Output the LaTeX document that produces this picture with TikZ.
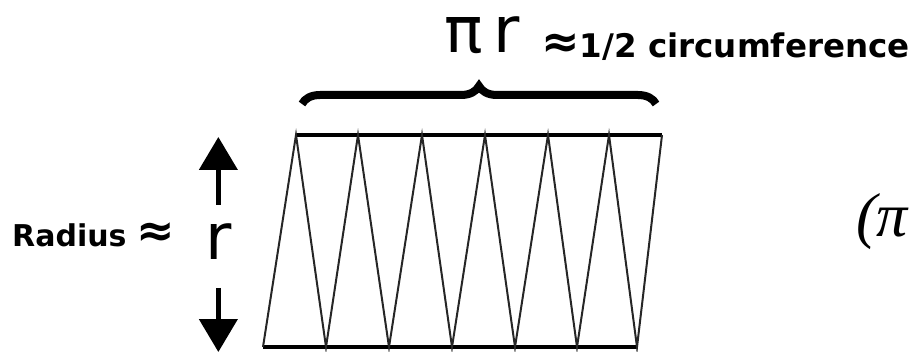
\documentclass[tikz,border=0pt]{standalone}
\usepackage{fontspec}
\usepackage{xcolor}
\usepackage{tikz}
\usetikzlibrary{arrows.meta, positioning}
\usetikzlibrary{decorations.pathreplacing}
\usetikzlibrary{calc}
\newfontfamily\labelfont{DejaVu Sans}
\newfontfamily\symfont{DejaVu Sans}
\newfontfamily\serffont{Liberation Serif}
\newcommand{\approxsign}{{\fontsize{46}{46}\selectfont ≈}}

\begin{document}
\begin{tikzpicture}[x=1pt,y=-1pt,
    lbl/.style={inner sep=0pt, font=\labelfont\bfseries\fontsize{30}{30}\selectfont},
    bigsym/.style={inner sep=0pt, font=\symfont\fontsize{64}{64}\selectfont},
    zig/.style={draw=black!85, line width=2pt},
    edge/.style={draw=black, line width=3.6pt},
    updown/.style={line width=4.5pt, -{Triangle[width=38pt,length=33pt]}}]
            \useasboundingbox (0,0) rectangle (917,352);
            % triangles cut from the circle
            \foreach \i/\xb/\xt in {0/263/296, 1/326/358, 2/389/422, 3/452/485, 4/515/548, 5/577/609, 6/637/662} {
                \coordinate (b\i) at (\xb,347);
                \coordinate (t\i) at (\xt,135);
            }
            \draw[edge] (b0) -- (b6);
            \draw[edge] (t0) -- (t6);
            \draw[zig] (b0) -- (t0) -- (b1) -- (t1) -- (b2) -- (t2) -- (b3) -- (t3)
                -- (b4) -- (t4) -- (b5) -- (t5) -- (b6) -- (t6);
            % top brace
            \coordinate (bl) at (302,104);
            \coordinate (br) at (656,104);
            \draw[line width=8pt, decorate, decoration={brace, amplitude=18pt}] (bl) -- (br);
            \node[bigsym, anchor=base west] (pir) at (444,53) {π\,r};
            \node[lbl, anchor=base west, font=\labelfont\bfseries\fontsize{32.5}{32.5}\selectfont] (half) at (541,58) {\approxsign1/2 circumference};
            % radius
            \node[lbl, anchor=base west] (rad) at (12,247) {Radius \approxsign};
            \node[bigsym, anchor=base west] (rr) at (205,260) {r};
            \draw[updown] ($(rr.base)+(0,-55)$) -- ($(rr.base)+(0,-123)$);
            \draw[updown] ($(rr.base)+(0,28)$) -- ($(rr.base)+(0,92)$);
            \node[inner sep=0pt, anchor=base west, font=\serffont\itshape\fontsize{62}{62}\selectfont] (pi) at (856,237) {(π};
        \end{tikzpicture}
\end{document}
